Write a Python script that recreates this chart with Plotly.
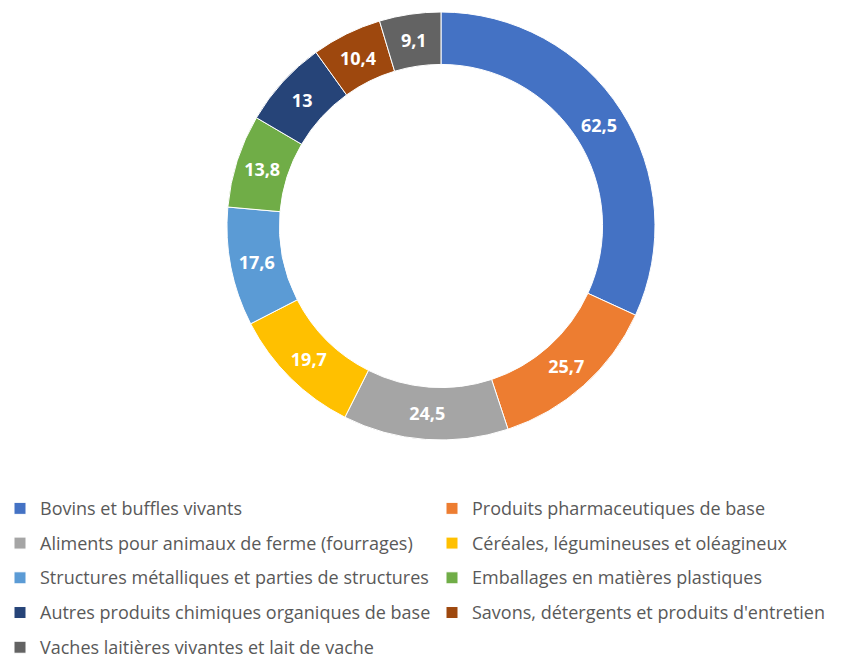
import plotly.graph_objects as go

# Data
labels = [
    "Bovins et buffles vivants",
    "Produits pharmaceutiques de base",
    "Aliments pour animaux de ferme (fourrages)",
    "Céréales, légumineuses et oléagineux",
    "Structures métalliques et parties de structures",
    "Emballages en matières plastiques",
    "Autres produits chimiques organiques de base",
    "Savons, détergents et produits d'entretien",
    "Vaches laitières vivantes et lait de vache",
]
values = [62.5, 25.7, 24.5, 19.7, 17.6, 13.8, 13, 10.4, 9.1]
colors = ["#4472C4", "#ED7D31", "#A5A5A5", "#FFC000", "#5B9BD5",
          "#70AD47", "#264478", "#9E480E", "#636363"]

W, H = 863, 654
M_TOP, M_BOT = 12, 214
PLOT_H = H - M_TOP - M_BOT

# legend text drawn at 18px while row height follows the (larger) legend font
legend_names = [f"<span style='font-size:18px;baseline-shift:3px'>{s}</span>" for s in labels]

fig = go.Figure(go.Pie(
    labels=legend_names,
    values=values,
    hole=0.755,
    sort=False,
    direction="clockwise",
    rotation=0,
    marker=dict(colors=colors, line=dict(color="white", width=1)),
    texttemplate="%{value}",
    textposition="inside",
    insidetextorientation="horizontal",
    textfont=dict(family="Open Sans", size=18, color="white", weight="bold"),
    domain=dict(x=[0.022, 1], y=[0, 1]),
    hoverinfo="value",
))

fig.update_layout(
    width=W, height=H,
    separators=", ",
    margin=dict(l=0, r=0, t=M_TOP, b=M_BOT, autoexpand=False),
    paper_bgcolor="white",
    plot_bgcolor="white",
    font=dict(family="Open Sans", color="#595959"),
    legend=dict(
        orientation="h",
        x=0, xanchor="left",
        y=-(486 - (H - M_BOT)) / PLOT_H, yanchor="top",
        font=dict(family="Open Sans", size=24.4, color="#595959"),
        entrywidth=387,
        itemwidth=30,
        maxheight=1,
        traceorder="normal",
    ),
)

fig.write_html("out.html", config={"displayModeBar": False},
               post_script="document.body.style.margin='0';")
